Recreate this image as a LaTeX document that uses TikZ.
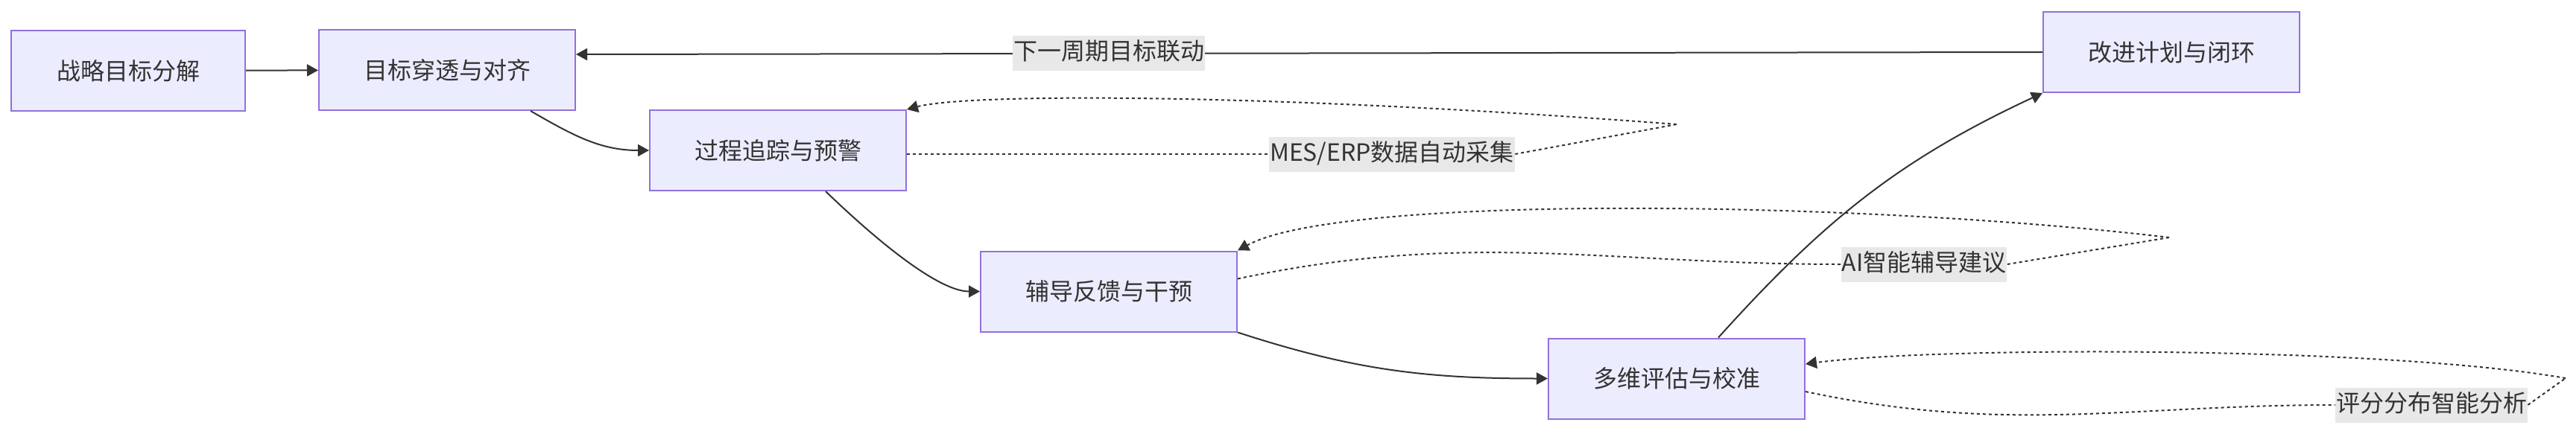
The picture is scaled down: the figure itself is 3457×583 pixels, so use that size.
\documentclass[tikz,border=0pt]{standalone}
\usepackage{fontspec}
\setmainfont{Noto Sans CJK SC}
\usepackage{tikz}
\usetikzlibrary{arrows.meta}
\definecolor{NodeFill}{HTML}{ECECFF}
\definecolor{NodeLine}{HTML}{9370DB}
\definecolor{InkGray}{HTML}{333333}
\definecolor{LabelGray}{HTML}{E8E8E8}

\begin{document}
\begin{tikzpicture}[x=0.5pt, y=-0.5pt,
    font=\fontsize{16pt}{19pt}\selectfont, text=InkGray,
    stage/.style={draw=NodeLine, fill=NodeFill, line width=1pt, minimum width=172pt, minimum height=54pt, inner sep=0pt},
    lbl/.style={fill=LabelGray, inner xsep=0.5pt, inner ysep=4.25pt, text height=12pt, text depth=3pt},
    arr/.style={draw=InkGray, line width=1pt, -{Triangle[length=7.5pt, width=8pt]}},
    dotline/.style={draw=InkGray, line width=1pt, dash pattern=on 2pt off 2pt}]
    \useasboundingbox (0,0) rectangle (3457,583);

    % Stages
    \node[stage, minimum width=157pt] (n1) at (172,95) {战略目标分解};
    \node[stage] (n2) at (600,94) {目标穿透与对齐};
    \node[stage] (n3) at (1044,202) {过程追踪与预警};
    \node[stage] (n4) at (1488,391.5) {辅导反馈与干预};
    \node[stage] (n5) at (2250,508.5) {多维评估与校准};
    \node[stage] (n6) at (2914,70) {改进计划与闭环};

    % Main flow
    \draw[arr] (n1) -- (n2);
    \draw[arr] ([xshift=56pt]n2.south) to[out=-30, in=180] (n3.west);
    \draw[arr] ([xshift=32pt]n3.south) to[out=-44, in=180, out looseness=1.1, in looseness=0.55] (n4.west);
    \draw[arr] (n4.south east) to[out=-18, in=180] (n5.west);
    \draw[arr] ([xshift=28pt]n5.north) to[out=48, in=205] (n6.south west);
    \draw[arr] (n6.west) -- node[lbl, pos=0.6365] (l6) {下一周期目标联动} ([yshift=10.5pt]n2.east);

    % Self loops
    \coordinate (t3) at (2250,167);
    \coordinate (t4) at (2911,319);
    \coordinate (t5) at (3443,508);
    \node[lbl] (l3) at (1868,207) {MES/ERP数据自动采集};
    \node[lbl] (l4) at (2582,355) {AI智能辅导建议};
    \node[lbl] (l5) at (3263,544) {评分分布智能分析};

    \draw[dotline] ([yshift=-2.5pt]n3.east) -- (l3.west);
    \draw[dotline] (l3.east) -- (t3);
    \draw[dotline, arr] (t3) .. controls (1700,125) and (1300,125) .. (n3.north east);

    \draw[dotline] ([yshift=8.5pt]n4.east) to[out=12, in=180] (l4.west);
    \draw[dotline] (l4.east) -- (t4);
    \draw[dotline, arr] (t4) .. controls (2500,270) and (1800,260) .. (n4.north east);

    \draw[dotline] ([yshift=-8.75pt]n5.east) to[out=-12, in=180] (l5.west);
    \draw[dotline] (l5.east) -- (t5);
    \draw[dotline, arr] (t5) .. controls (3200,465) and (2600,465) .. ([yshift=9.75pt]n5.east);
\end{tikzpicture}
\end{document}
